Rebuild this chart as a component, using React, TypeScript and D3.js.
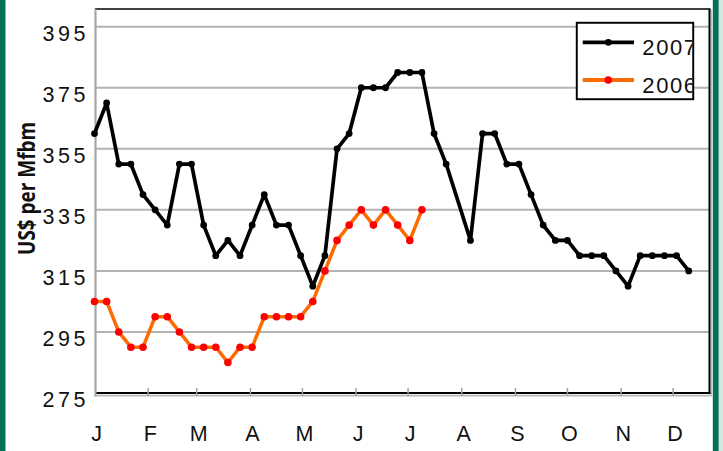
import React from 'react';
import * as d3 from 'd3';

// Month tick labels and their start day-of-year
const monthLabels = ['J', 'F', 'M', 'A', 'M', 'J', 'J', 'A', 'S', 'O', 'N', 'D'];
const monthStartDays = [0, 31, 59, 90, 120, 151, 181, 212, 243, 273, 304, 334];

// Y axis ticks
const yTickValues = [275, 295, 315, 335, 355, 375, 395];

// Weekly prices (US$ per Mfbm); null = missing week
const prices2007: (number | null)[] = [
  360, 370, 350, 350, 340, 335, 330, 350, 350, 330,
  320, 325, 320, 330, 340, 330, 330, 320, 310, 320,
  355, 360, 375, 375, 375, 380, 380, 380, 360, 350,
  null, 325, 360, 360, 350, 350, 340, 330, 325, 325,
  320, 320, 320, 315, 310, 320, 320, 320, 320, 315,
];
const prices2006: number[] = [
  305, 305, 295, 290, 290, 300, 300, 295, 290, 290,
  290, 285, 290, 290, 300, 300, 300, 300, 305, 315,
  325, 330, 335, 330, 335, 330, 325, 335,
];
const seriesNames = ['2007', '2006'];

const W = 723;
const H = 451;
const FONT = '"Liberation Sans", Arial, Helvetica, sans-serif';

export default function App() {
  const plotLeft = 95;
  const plotRight = 709.5;
  const plotTop = 9;
  const plotBottom = 393;

  const x = d3.scaleLinear().domain([0, 355]).range([94.5, 709.5]);
  const y = d3.scaleLinear().domain([275, 395]).range([393, 26.7]);

  const pts2007 = prices2007
    .map((v, i) => ({ day: i * 7, v }))
    .filter((d) => d.v !== null) as { day: number; v: number }[];
  const pts2006 = prices2006.map((v, i) => ({ day: i * 7, v }));

  const line = d3
    .line<{ day: number; v: number }>()
    .x((d) => x(d.day))
    .y((d) => y(d.v));

  const black = '#000000';
  const orange = '#ff6a00';
  const red = '#ff0000';

  // legend geometry
  const lg = { x0: 576.7, y0: 22.7, x1: 693.3, y1: 99.3 };
  const legendRows = [
    { name: seriesNames[0], line: black, dot: black, ly: 42.3, ty: 54.5, r: 3.4 },
    { name: seriesNames[1], line: orange, dot: red, ly: 80, ty: 92.7, r: 3.8 },
  ];

  return (
    <svg
      width={W}
      height={H}
      viewBox={`0 0 ${W} ${H}`}
      style={{ position: 'absolute', left: 0, top: 0, display: 'block', background: '#fff' }}
    >
      <defs>
        <clipPath id="legendClip">
          <rect x={lg.x0} y={lg.y0} width={lg.x1 - lg.x0 - 1} height={lg.y1 - lg.y0} />
        </clipPath>
      </defs>
      <rect x={0} y={0} width={W} height={H} fill="#ffffff" />

      {/* green frame stripes */}
      <rect x={0} y={0} width={5.5} height={H} fill="#066f57" />
      <rect x={712.8} y={0} width={6} height={H} fill="#066f57" />
      <rect x={718.8} y={0} width={W - 718.8} height={H} fill="#cfe7df" />

      {/* gridlines */}
      {yTickValues
        .filter((v) => v !== 275)
        .map((v) => (
          <line
            key={'g' + v}
            x1={plotLeft}
            x2={plotRight}
            y1={y(v)}
            y2={y(v)}
            stroke="#b3b3b3"
            strokeWidth={2}
          />
        ))}

      {/* frame */}
      <line x1={plotLeft} x2={plotRight + 1} y1={plotTop} y2={plotTop} stroke="#000" strokeWidth={1.7} />
      <line x1={plotRight + 2} x2={plotRight + 2} y1={plotTop + 1} y2={plotBottom + 3} stroke="#bdbdbd" strokeWidth={1.5} />
      <line x1={plotRight} x2={plotRight} y1={plotTop} y2={plotBottom + 1} stroke="#000" strokeWidth={2} />
      <line x1={plotLeft} x2={plotRight + 2} y1={plotBottom + 2.6} y2={plotBottom + 2.6} stroke="#b8b8b8" strokeWidth={1.6} />
      <line x1={plotLeft} x2={plotRight + 1} y1={plotBottom} y2={plotBottom} stroke="#000" strokeWidth={1.8} />
      <line x1={plotLeft + 0.5} x2={plotLeft + 0.5} y1={plotTop} y2={plotBottom + 3.5} stroke="#a6a6a6" strokeWidth={2.2} />

      {/* x ticks */}
      {monthStartDays.slice(1).map((d, i) => (
        <line
          key={'t' + i}
          x1={x(d)}
          x2={x(d)}
          y1={plotBottom - 5}
          y2={plotBottom + 3}
          stroke="#a0a0a0"
          strokeWidth={1.5}
        />
      ))}

      {/* y tick labels */}
      {yTickValues.map((v) => (
        <text
          key={'yl' + v}
          x={42.5}
          y={y(v) + 13.8}
          fontFamily={FONT}
          fontSize={21.5}
          textLength={43}
          lengthAdjust="spacing"
          fill="#111"
        >
          {v}
        </text>
      ))}

      {/* x labels */}
      {monthLabels.map((m, i) => (
        <text
          key={'xl' + i}
          x={x(monthStartDays[i]) + 2}
          y={440.5}
          textAnchor="middle"
          fontFamily={FONT}
          fontSize={21.5}
          fill="#111"
        >
          {m}
        </text>
      ))}

      {/* y axis title */}
      <text
        transform={`translate(35, 188.4) rotate(-90)`}
        textAnchor="middle"
        fontFamily='"Open Sans", "Noto Sans", sans-serif'
        fontWeight={700}
        fontSize={23}
        textLength={133}
        lengthAdjust="spacingAndGlyphs"
        fill="#111"
      >
        US$ per Mfbm
      </text>

      {/* 2007 series */}
      <path d={line(pts2007) || ''} fill="none" stroke={black} strokeWidth={3.7} strokeLinejoin="round" />
      {pts2007.map((d, i) => (
        <circle key={'b' + i} cx={x(d.day)} cy={y(d.v)} r={3.4} fill={black} />
      ))}

      {/* 2006 series */}
      <path d={line(pts2006) || ''} fill="none" stroke={orange} strokeWidth={3.5} strokeLinejoin="round" />
      {pts2006.map((d, i) => (
        <circle key={'o' + i} cx={x(d.day)} cy={y(d.v)} r={3.8} fill={red} />
      ))}

      {/* legend */}
      <rect
        x={lg.x0}
        y={lg.y0}
        width={lg.x1 - lg.x0}
        height={lg.y1 - lg.y0}
        fill="#fff"
        stroke="#000"
        strokeWidth={1.6}
      />
      {legendRows.map((r) => (
        <g key={r.name}>
          <line x1={582.7} x2={634} y1={r.ly} y2={r.ly} stroke={r.line} strokeWidth={3.8} />
          <circle cx={608.3} cy={r.ly} r={r.r} fill={r.dot} />
          <g clipPath="url(#legendClip)">
            <text
              x={642.3}
              y={r.ty}
              fontFamily={FONT}
              fontSize={22}
              letterSpacing={1.6}
              fill="#111"
            >
              {r.name}
            </text>
          </g>
        </g>
      ))}
      <rect
        x={lg.x0}
        y={lg.y0}
        width={lg.x1 - lg.x0}
        height={lg.y1 - lg.y0}
        fill="none"
        stroke="#000"
        strokeWidth={1.6}
      />
    </svg>
  );
}
